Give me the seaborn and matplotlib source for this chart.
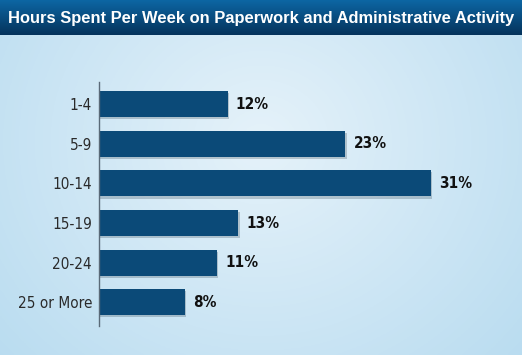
import numpy as np
import pandas as pd
import matplotlib
matplotlib.use("Agg")
import matplotlib.pyplot as plt
import matplotlib.patheffects as pe
import seaborn as sns

categories = ["1-4", "5-9", "10-14", "15-19", "20-24", "25 or More"]
values = [12, 23, 31, 13, 11, 8]
value_labels = ["12%", "23%", "31%", "13%", "11%", "8%"]
title = "Hours Spent Per Week on Paperwork and Administrative Activity"

df = pd.DataFrame({"category": categories, "value": values})

sns.set_theme(style="white")
plt.rcParams["font.family"] = ["DejaVu Sans"]

W, H = 522, 355
fig = plt.figure(figsize=(W / 100, H / 100), dpi=100)

# background gradient
bg = fig.add_axes([0, 0, 1, 1])
bg.set_axis_off()
yy, xx = np.mgrid[0:1:200j, 0:1:300j]
d = np.sqrt(((xx - 0.5) / 0.7) ** 2 + ((yy - 0.4) / 0.95) ** 2)
d = np.clip(d, 0, 1)
c_center = np.array([0.90, 0.95, 0.98])
c_edge = np.array([0.72, 0.86, 0.94])
img = c_center[None, None, :] * (1 - d[..., None]) + c_edge[None, None, :] * d[..., None]
bg.imshow(img, extent=[0, 1, 0, 1], aspect="auto", origin="upper")
# banner
ban_h = 35 / H
gy = np.linspace(0, 1, 50)[:, None]
top_c = np.array([0.05, 0.40, 0.64])
bot_c = np.array([0.02, 0.20, 0.36])
band = top_c[None, None, :] * (1 - gy[..., None]) + bot_c[None, None, :] * gy[..., None]
band = np.repeat(band, 10, axis=1)
bg.imshow(band, extent=[0, 1, 1 - ban_h, 1], aspect="auto", origin="upper")
bg.set_xlim(0, 1)
bg.set_ylim(0, 1)
bg.text(0.5, 1 - ban_h / 2 - 0.003, title, color="white", fontsize=11.9,
        fontweight="bold", ha="center", va="center", family="Liberation Sans")

ax = fig.add_axes([99 / W, 1 - 326 / H, 1 - 99 / W, (326 - 82) / H])
ax.patch.set_alpha(0)
sns.barplot(data=df, x="value", y="category", ax=ax, color="#0b4a78",
            saturation=1, width=0.66, orient="h")
for p in ax.patches:
    p.set_path_effects([pe.SimplePatchShadow(offset=(1, -1.5), alpha=0.2), pe.Normal()])
    p.set_edgecolor("none")
ax.set_xlim(0, 39.5)
ax.set_ylim(5.6, -0.56)
ax.set_xlabel("")
ax.set_ylabel("")
ax.set_xticks([])
for s in ["top", "right", "bottom"]:
    ax.spines[s].set_visible(False)
ax.spines["left"].set_color("#5a6a78")
ax.spines["left"].set_linewidth(1.0)
ax.tick_params(axis="y", length=0, pad=5, labelsize=11, labelcolor="#2a2a2a")
for lab in ax.get_yticklabels():
    lab.set_fontstretch("condensed")
for i, (v, t) in enumerate(zip(values, value_labels)):
    ax.annotate(t, (v, i), xytext=(6, 0), textcoords="offset points",
                ha="left", va="center", fontsize=11, fontweight="bold",
                color="#111111", fontstretch="condensed")

fig.savefig("out.png", dpi=100)
